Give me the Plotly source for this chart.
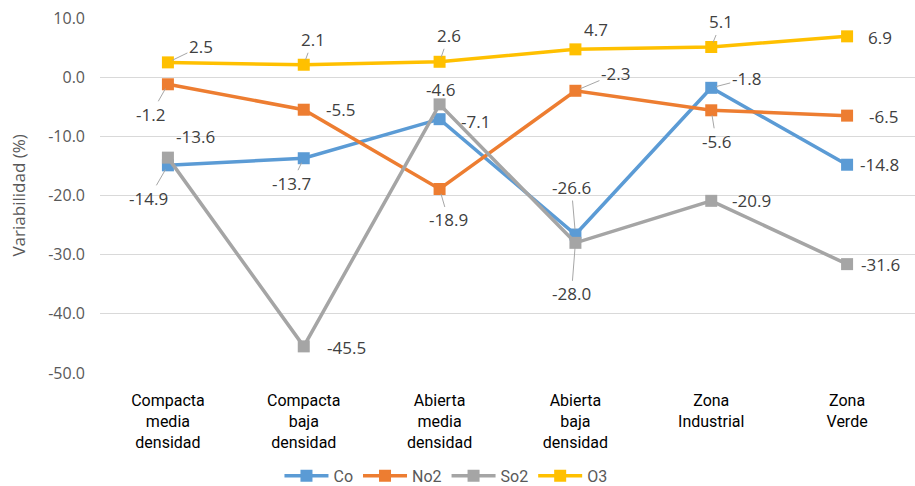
import plotly.graph_objects as go

# ---- data ----
categories = ["Compacta media densidad", "Compacta baja densidad", "Abierta media densidad",
              "Abierta baja densidad", "Zona Industrial", "Zona Verde"]
tick_labels = ["Compacta<br>media<br>densidad", "Compacta<br>baja<br>densidad",
               "Abierta<br>media<br>densidad", "Abierta<br>baja<br>densidad",
               "Zona<br>Industrial", "Zona<br>Verde"]
series_names = ["Co", "No2", "So2", "O3"]
co = [-14.9, -13.7, -7.1, -26.6, -1.8, -14.8]
no2 = [-1.2, -5.5, -18.9, -2.3, -5.6, -6.5]
so2 = [-13.6, -45.5, -4.6, -28.0, -20.9, -31.6]
o3 = [2.5, 2.1, 2.6, 4.7, 5.1, 6.9]
y_ticks = [10, 0, -10, -20, -30, -40, -50]

series_values = [co, no2, so2, o3]
colors = ["#5B9BD5", "#ED7D31", "#A5A5A5", "#FFC000"]

# label placement (pixel offsets of label centre from the point, leader line flag)
label_layout = [
    [(-19, 33, True), (-12, 25, True), (36, 2, False), (-4, -47, True), (35, -9, True), (32, 0, False)],
    [(-17, 30, True), (37, 0, False), (9, 31, True), (40, -17, True), (5, 31, True), (36, 1, False)],
    [(28, -21, False), (43, 1, False), (1, -15, False), (-4, 51, True), (40, 0, False), (33, 0, False)],
    [(33, -16, True), (9, -25, True), (9, -26, True), (21, -20, False), (10, -25, True), (33, 1, False)],
]

fig = go.Figure()
for name, vals, col in zip(series_names, series_values, colors):
    fig.add_trace(go.Scatter(
        x=categories, y=vals, name=name, mode="lines+markers",
        line=dict(color=col, width=3.5),
        marker=dict(symbol="square", size=12, color=col),
    ))

annotations = []
for vals, lay in zip(series_values, label_layout):
    for cat, v, (dx, dy, leader) in zip(categories, vals, lay):
        annotations.append(dict(
            x=cat, y=v, xref="x", yref="y", text=f"{v:.1f}",
            showarrow=True, ax=dx, ay=dy, arrowhead=0, arrowwidth=1,
            arrowcolor="#A6A6A6" if leader else "rgba(0,0,0,0)", standoff=5,
            font=dict(family="Open Sans, sans-serif", size=17, color="#404040"),
        ))

annotations.append(dict(
    x=-0.1006, y=0.5, xref="paper", yref="paper", text="Variabilidad (%)",
    textangle=-90, showarrow=False, xanchor="center", yanchor="middle",
    font=dict(family="Open Sans, sans-serif", size=17, color="#595959"),
))

fig.update_layout(
    width=915, height=486,
    margin=dict(l=100, r=0, t=18, b=113, autoexpand=False),
    paper_bgcolor="white", plot_bgcolor="white",
    annotations=annotations,
    showlegend=True,
    legend=dict(orientation="h", x=0.4245, xanchor="center", y=-0.29, yanchor="middle",
                font=dict(family="Roboto, sans-serif", size=16, color="#595959"),
                itemwidth=44, tracegroupgap=0),
    xaxis=dict(range=[-0.5, 5.5], tickmode="array", tickvals=categories, ticktext=tick_labels,
               showgrid=False, zeroline=False, showline=False, ticks="",
               ticklabelstandoff=16,
               tickfont=dict(family="Roboto, sans-serif", size=16, color="#000000")),
    yaxis=dict(range=[-50, 10], tickvals=y_ticks, ticktext=[f"{t:.1f}" for t in y_ticks],
               showgrid=True, gridcolor="#D9D9D9", gridwidth=1, zeroline=False,
               showline=False, ticks="", ticklabelstandoff=14,
               tickfont=dict(family="Open Sans, sans-serif", size=16, color="#595959")),
)

fig.write_html("out.html")
